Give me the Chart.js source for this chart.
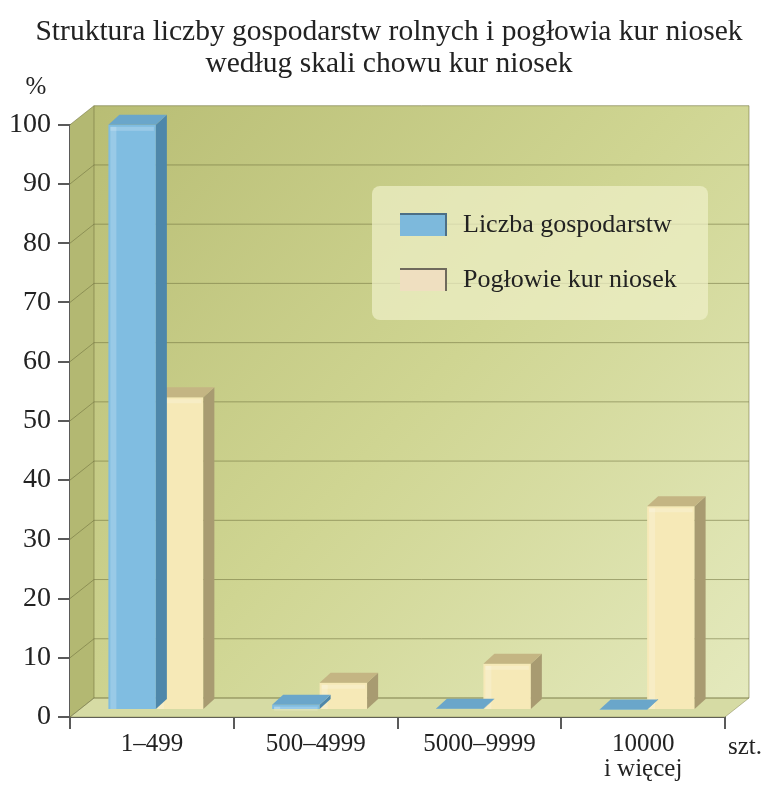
<!DOCTYPE html>
<html>
<head>
<meta charset="utf-8">
<script src="https://cdn.jsdelivr.net/npm/chart.js@4.4.1/dist/chart.umd.min.js"></script>
<style>
    html, body { margin: 0; padding: 0; background: #ffffff; }
    #wrap { width: 767px; height: 787px; }
</style>
</head>
<body>
<div id="wrap"><canvas id="layers_bar"></canvas></div>
<script>
const categories = ['1–499', '500–4999', '5000–9999', ['10000', 'i więcej']];
const seriesNames = ['Liczba gospodarstw', 'Pogłowie kur niosek'];
const farmsShare = [98.8, 0.9, 0.2, 0.1];
const henShare = [52.8, 4.6, 7.8, 34.4];
const yMin = 0, yMax = 100, yStep = 10;

const SERIF = "'Liberation Serif', 'DejaVu Serif', serif";
const WALL = { dx: 24, dy: -19 };   // depth of the back wall
const ROW = { dx: 4, dy: -7 };      // bars stand a bit behind the front axis
const EXT = { dx: 11, dy: -10 };    // depth of each bar

const faces = [
    { front: '#80bde1', side: '#4e87aa', top: '#6aa6ca' },
    { front: '#f6e9b7', side: '#a89b71', top: '#c4b583' }
];

// walls, floor and gridlines behind the bars
const walls = {
    id: 'walls',
    beforeDatasetsDraw(chart) {
        const { ctx, chartArea: a, scales: { y } } = chart;
        ctx.save();
        // back wall
        const g = ctx.createLinearGradient(a.left, a.top, a.right, a.bottom);
        g.addColorStop(0, '#b8bd74');
        g.addColorStop(0.5, '#cfd592');
        g.addColorStop(1, '#e4e9bd');
        ctx.fillStyle = g;
        ctx.fillRect(a.left + WALL.dx, a.top + WALL.dy, a.right - a.left, a.bottom - a.top);
        // left side wall
        ctx.fillStyle = '#b3b872';
        ctx.beginPath();
        ctx.moveTo(a.left, a.top);
        ctx.lineTo(a.left + WALL.dx, a.top + WALL.dy);
        ctx.lineTo(a.left + WALL.dx, a.bottom + WALL.dy);
        ctx.lineTo(a.left, a.bottom);
        ctx.closePath();
        ctx.fill();
        // floor
        ctx.fillStyle = '#d6dba4';
        ctx.beginPath();
        ctx.moveTo(a.left, a.bottom);
        ctx.lineTo(a.left + WALL.dx, a.bottom + WALL.dy);
        ctx.lineTo(a.right + WALL.dx, a.bottom + WALL.dy);
        ctx.lineTo(a.right, a.bottom);
        ctx.closePath();
        ctx.fill();
        ctx.strokeStyle = 'rgba(120,120,70,0.45)';
        ctx.lineWidth = 1;
        ctx.stroke();
        // gridlines
        ctx.strokeStyle = 'rgba(110,112,60,0.55)';
        for (let v = yMin; v <= yMax; v += yStep) {
            const py = y.getPixelForValue(v);
            ctx.beginPath();
            ctx.moveTo(a.left, py);
            ctx.lineTo(a.left + WALL.dx, py + WALL.dy);
            ctx.lineTo(a.right + WALL.dx, py + WALL.dy);
            ctx.stroke();
        }
        ctx.beginPath();
        ctx.moveTo(a.left + WALL.dx, a.top + WALL.dy);
        ctx.lineTo(a.left + WALL.dx, a.bottom + WALL.dy);
        ctx.moveTo(a.right + WALL.dx, a.top + WALL.dy);
        ctx.lineTo(a.right + WALL.dx, a.bottom + WALL.dy);
        ctx.stroke();
        ctx.restore();

        ctx.save();
        ctx.translate(ROW.dx, ROW.dy);
    },
    afterDatasetDraw(chart, args) {
        const { ctx } = chart;
        const f = faces[args.index];
        chart.getDatasetMeta(args.index).data.forEach(bar => {
            const { x, y, base, width } = bar.getProps(['x', 'y', 'base', 'width'], true);
            const l = x - width / 2, r = x + width / 2;
            ctx.fillStyle = f.side;
            ctx.beginPath();
            ctx.moveTo(r, y);
            ctx.lineTo(r + EXT.dx, y + EXT.dy);
            ctx.lineTo(r + EXT.dx, base + EXT.dy);
            ctx.lineTo(r, base);
            ctx.closePath();
            ctx.fill();
            ctx.fillStyle = f.top;
            ctx.beginPath();
            ctx.moveTo(l, y);
            ctx.lineTo(l + EXT.dx, y + EXT.dy);
            ctx.lineTo(r + EXT.dx, y + EXT.dy);
            ctx.lineTo(r, y);
            ctx.closePath();
            ctx.fill();
            // soft highlight along the left and top edge of the front face
            if (base - y > 4) {
                ctx.fillStyle = 'rgba(255,255,255,0.2)';
                ctx.fillRect(l + 2, y + 2, 6, base - y - 2);
                ctx.fillRect(l + 2, y + 2, width - 4, 4);
            }
        });
    },
    afterDatasetsDraw(chart) {
        chart.ctx.restore();
    }
};

// legend box, unit labels
const notes = {
    id: 'notes',
    afterDraw(chart) {
        const { ctx, chartArea: a } = chart;
        ctx.save();
        ctx.fillStyle = '#222';
        ctx.font = '25px ' + SERIF;
        ctx.textBaseline = 'middle';
        ctx.textAlign = 'center';
        ctx.fillText('%', 36, 87);
        ctx.textAlign = 'left';
        ctx.fillText('szt.', a.right + 3, a.bottom + 30);

        // legend
        ctx.fillStyle = 'rgba(238,240,200,0.72)';
        ctx.beginPath();
        ctx.roundRect(372, 186, 336, 134, 8);
        ctx.fill();
        const swatch = ['#7db9dc', '#efdfc0'];
        const edge = ['#4c6f86', '#6f6a5c'];
        chart.data.datasets.forEach((ds, i) => {
            const sy = 213 + i * 55;
            ctx.fillStyle = swatch[i];
            ctx.fillRect(400, sy, 47, 23);
            ctx.strokeStyle = edge[i];
            ctx.lineWidth = 2;
            ctx.beginPath();
            ctx.moveTo(400, sy + 1);
            ctx.lineTo(446, sy + 1);
            ctx.lineTo(446, sy + 23);
            ctx.stroke();
            ctx.fillStyle = '#222';
            ctx.font = '26px ' + SERIF;
            ctx.fillText(ds.label, 463, sy + 12);
        });
        ctx.restore();
    }
};

const layers_bar = document.getElementById('layers_bar').getContext('2d');
new Chart(layers_bar, {
    type: 'bar',
    data: {
        labels: categories,
        datasets: [{
            label: seriesNames[0],
            data: farmsShare,
            backgroundColor: faces[0].front,
            borderWidth: 0,
            clip: false
        }, {
            label: seriesNames[1],
            data: henShare,
            backgroundColor: faces[1].front,
            borderWidth: 0,
            clip: false
        }]
    },
    options: {
        responsive: true,
        maintainAspectRatio: false,
        animation: false,
        categoryPercentage: 0.58,
        barPercentage: 1.0,
        layout: {
            padding: { left: 11, right: 0, top: 0, bottom: 0 }
        },
        plugins: {
            legend: { display: false },
            tooltip: { enabled: false },
            title: {
                display: true,
                text: ['Struktura liczby gospodarstw rolnych i pogłowia kur niosek', 'według skali chowu kur niosek'],
                color: '#222',
                font: { family: SERIF, size: 29.5, weight: 'normal', lineHeight: 1.08 },
                padding: { top: 16, bottom: 45 }
            }
        },
        scales: {
            x: {
                afterFit(scale) { scale.height = 70; },
                grid: {
                    offset: true,
                    drawOnChartArea: false,
                    tickLength: 12,
                    color: '#5a5a5a',
                    lineWidth: 2
                },
                border: { color: '#5a5a5a', width: 2 },
                ticks: {
                    color: '#222',
                    padding: 3,
                    font: { family: SERIF, size: 25, lineHeight: 1.0 }
                }
            },
            y: {
                min: yMin,
                max: yMax,
                afterFit(scale) { scale.width = 59; },
                grid: {
                    drawOnChartArea: false,
                    tickLength: 12,
                    color: '#5a5a5a',
                    lineWidth: 2
                },
                border: { color: '#5a5a5a', width: 2 },
                ticks: {
                    stepSize: yStep,
                    color: '#222',
                    padding: 7,
                    font: { family: SERIF, size: 28 }
                }
            },
            // empty strip on the right for the "szt." note
            spare: {
                position: 'right',
                min: yMin,
                max: yMax,
                afterFit(scale) { scale.width = 42; },
                grid: { display: false },
                border: { display: false },
                ticks: { display: false }
            }
        }
    },
    plugins: [walls, notes]
});
</script>
</body>
</html>
